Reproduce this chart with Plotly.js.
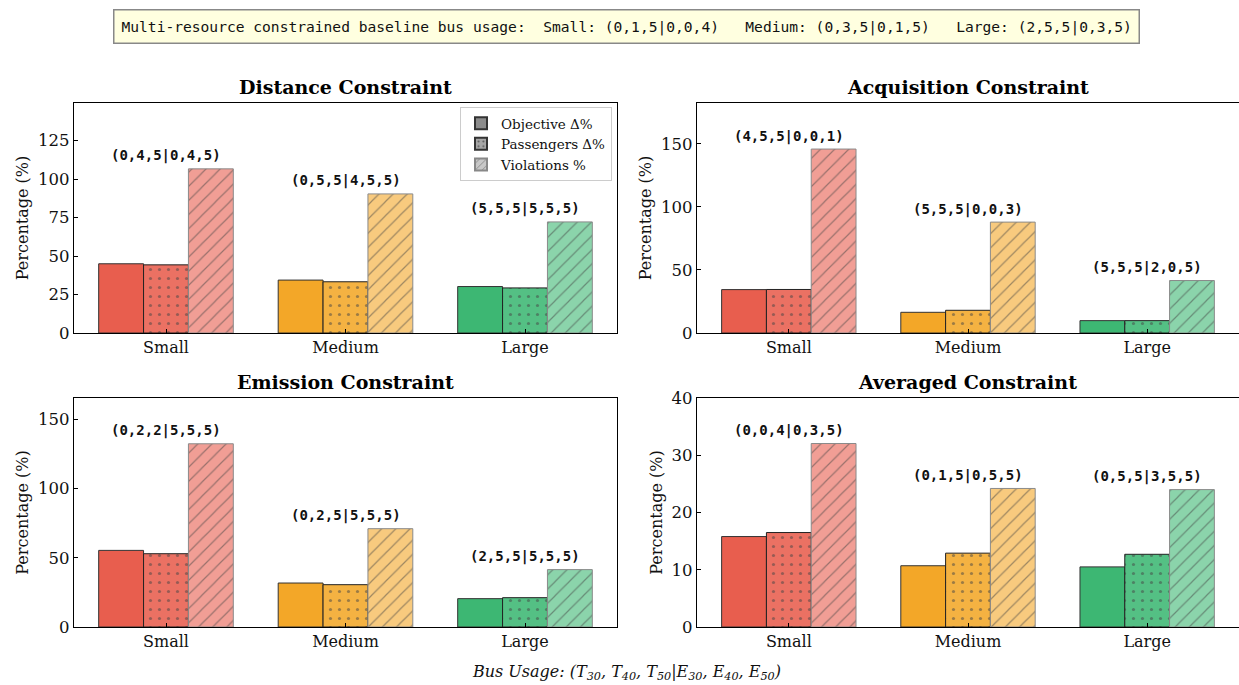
<!DOCTYPE html>
<html><head><meta charset="utf-8">
<script src="https://cdn.plot.ly/plotly-3.0.1.min.js"></script>
<style>html,body{margin:0;padding:0;background:#fff;}#chart{width:1239px;height:685px;}</style>
</head><body><div id="chart"></div>
<script>
// ---- data ----
const categories = ['Small', 'Medium', 'Large'];
const panelTitles = ['Distance Constraint', 'Acquisition Constraint', 'Emission Constraint', 'Averaged Constraint'];

const distanceObj  = [45.0, 34.4, 30.2];
const distancePass = [44.3, 33.3, 29.3];
const distanceViol = [106.7, 90.4, 72.2];
const distanceLabels = ['(0,4,5|0,4,5)', '(0,5,5|4,5,5)', '(5,5,5|5,5,5)'];

const acquisitionObj  = [34.4, 16.4, 9.8];
const acquisitionPass = [34.5, 18.0, 9.8];
const acquisitionViol = [145.8, 87.9, 41.6];
const acquisitionLabels = ['(4,5,5|0,0,1)', '(5,5,5|0,0,3)', '(5,5,5|2,0,5)'];

const emissionObj  = [55.4, 31.8, 20.5];
const emissionPass = [53.0, 30.6, 21.2];
const emissionViol = [132.5, 71.1, 41.5];
const emissionLabels = ['(0,2,2|5,5,5)', '(0,2,5|5,5,5)', '(2,5,5|5,5,5)'];

const averagedObj  = [15.8, 10.7, 10.5];
const averagedPass = [16.5, 12.9, 12.7];
const averagedViol = [32.05, 24.2, 24.0];
const averagedLabels = ['(0,0,4|0,3,5)', '(0,1,5|0,5,5)', '(0,5,5|3,5,5)'];

const seriesNames = ['Objective \u0394%', 'Passengers \u0394%', 'Violations %'];
const baselineText = 'Multi-resource constrained baseline bus usage:  Small: (0,1,5|0,0,4)   Medium: (0,3,5|0,1,5)   Large: (2,5,5|0,3,5)';

// ---- styling ----
const baseColors = [[232,94,78],[243,167,40],[61,183,115]];
function mix(c, a){ return 'rgb(' + c.map(v => Math.round(a*v + (1-a)*255)).join(',') + ')'; }
const objColors  = baseColors.map(c => mix(c, 1));
const passColors = baseColors.map(c => mix(c, 0.88));
const violColors = baseColors.map(c => mix(c, 0.6));

const panels = [
  {obj: distanceObj, pass: distancePass, viol: distanceViol, labels: distanceLabels, range: [0,149.5], dtick: 25},
  {obj: acquisitionObj, pass: acquisitionPass, viol: acquisitionViol, labels: acquisitionLabels, range: [0,182.3], dtick: 50},
  {obj: emissionObj, pass: emissionPass, viol: emissionViol, labels: emissionLabels, range: [0,165.6], dtick: 50},
  {obj: averagedObj, pass: averagedPass, viol: averagedViol, labels: averagedLabels, range: [0,40], dtick: 10}
];

const W = 1239, H = 685;
const xDomains = [[74/W, 617/W], [697/W, 1], [74/W, 617/W], [697/W, 1]];
const yDomains = [[1-333/H, 1-103/H], [1-333/H, 1-103/H], [1-627/H, 1-398/H], [1-627/H, 1-398/H]];

const xPos = categories.map((c, i) => i);
const serif = 'DejaVu Serif, serif';
const mono = 'DejaVu Sans Mono, monospace';

const traces = [];
const annotations = [];
const layout = {
  width: W, height: H,
  margin: {l:0, r:0, t:0, b:0},
  paper_bgcolor: '#fff', plot_bgcolor: '#fff',
  barmode: 'overlay',
  showlegend: true,
  legend: {x: 612/W, xanchor: 'right', y: 1-107/H, yanchor: 'top', bgcolor: 'rgba(255,255,255,0.9)',
           bordercolor: '#cccccc', borderwidth: 1, font: {family: serif, size: 13.5, color: '#111'},
           tracegroupgap: 0, itemsizing: 'constant', itemwidth: 30},
  annotations: annotations,
  font: {family: serif, color: '#111'}
};

panels.forEach((p, k) => {
  const ax = k === 0 ? '' : String(k+1);
  const xa = 'x' + ax, ya = 'y' + ax;
  const common = {type: 'bar', x: xPos, width: 0.25, xaxis: xa, yaxis: ya, showlegend: false, hoverinfo: 'y'};
  traces.push(Object.assign({}, common, {
    y: p.obj, offset: -0.375, name: seriesNames[0],
    marker: {color: objColors, line: {color: '#333333', width: 1}}
  }));
  traces.push(Object.assign({}, common, {
    y: p.pass, offset: -0.125, name: seriesNames[1],
    marker: {color: passColors, line: {color: '#222222', width: 1},
             pattern: {shape: '.', bgcolor: passColors, fgcolor: '#000000', size: 9, solidity: 0.1, fillmode: 'overlay'}}
  }));
  traces.push(Object.assign({}, common, {
    y: p.viol, offset: 0.125, name: seriesNames[2],
    marker: {color: violColors, line: {color: '#8a8a8a', width: 1},
             pattern: {shape: '/', bgcolor: violColors, fgcolor: 'rgba(60,60,60,0.8)', size: 10, solidity: 0.12, fillmode: 'overlay'}}
  }));

  layout['xaxis' + ax] = {
    domain: xDomains[k], anchor: ya, range: [-0.5125, 2.5125],
    tickvals: xPos, ticktext: categories, ticks: 'inside', ticklen: 4, tickcolor: '#000',
    showline: true, linecolor: '#000', linewidth: 1.2, mirror: true, showgrid: false, zeroline: false,
    tickfont: {family: serif, size: 16, color: '#111'}, fixedrange: true
  };
  layout['yaxis' + ax] = {
    domain: yDomains[k], anchor: xa, range: p.range, dtick: p.dtick, tick0: 0,
    ticks: 'inside', ticklen: 4, tickcolor: '#000',
    showline: true, linecolor: '#000', linewidth: 1.2, mirror: true, showgrid: false, zeroline: false,
    tickfont: {family: serif, size: 16.5, color: '#111'},
    title: {text: 'Percentage (%)', font: {family: serif, size: 16, color: '#111'}, standoff: 5}, fixedrange: true
  };

  // panel title
  annotations.push({
    xref: 'paper', yref: 'paper', x: (xDomains[k][0] + xDomains[k][1]) / 2, y: yDomains[k][1],
    yshift: 16, xanchor: 'center', yanchor: 'middle', showarrow: false,
    text: '<b>' + panelTitles[k] + '</b>', font: {family: serif, size: 19, color: '#000'}
  });
  // group labels
  categories.forEach((c, i) => {
    const top = Math.max(p.obj[i], p.pass[i], p.viol[i]);
    annotations.push({
      xref: xa, yref: ya, x: xPos[i], y: top, yshift: 13, xanchor: 'center', yanchor: 'middle',
      showarrow: false, text: '<b>' + p.labels[i] + '</b>', font: {family: mono, size: 14, color: '#111'}
    });
  });
});

// legend proxies (grey) on a hidden axis
const legendColors = ['#8c8c8c', '#a6a6a6', '#c8c8c8'];
const legendPatterns = [null, {shape: '.', bgcolor: '#a6a6a6', fgcolor: '#111', size: 6, solidity: 0.15, fillmode: 'overlay'},
                        {shape: '/', bgcolor: '#c8c8c8', fgcolor: '#555', size: 6, solidity: 0.2, fillmode: 'overlay'}];
seriesNames.forEach((n, i) => {
  const m = {color: legendColors[i], line: {color: i === 2 ? '#888' : '#333', width: 1}};
  if (legendPatterns[i]) m.pattern = legendPatterns[i];
  traces.push({type: 'bar', x: [null], y: [null], name: n, xaxis: 'x5', yaxis: 'y5', marker: m, showlegend: true});
});
layout.xaxis5 = {domain: [0, 0.01], anchor: 'y5', visible: false};
layout.yaxis5 = {domain: [0, 0.01], anchor: 'x5', visible: false};

// top baseline box
annotations.push({
  xref: 'paper', yref: 'paper', x: 626/W, y: 1-26/H, xanchor: 'center', yanchor: 'middle', showarrow: false,
  text: baselineText.replace(/ /g, '\u00A0'),
  font: {family: mono, size: 14.6, color: '#111'},
  bgcolor: '#ffffe0', bordercolor: '#888888', borderwidth: 1.5, borderpad: 7
});
// bottom xlabel
annotations.push({
  xref: 'paper', yref: 'paper', x: 626/W, y: 1-672/H, xanchor: 'center', yanchor: 'middle', showarrow: false,
  text: '<i>Bus Usage: (T<sub>30</sub>, T<sub>40</sub>, T<sub>50</sub>|E<sub>30</sub>, E<sub>40</sub>, E<sub>50</sub>)</i>',
  font: {family: serif, size: 16, color: '#111'}
});

Plotly.newPlot('chart', traces, layout, {displayModeBar: false, staticPlot: true});
</script>
</body></html>
